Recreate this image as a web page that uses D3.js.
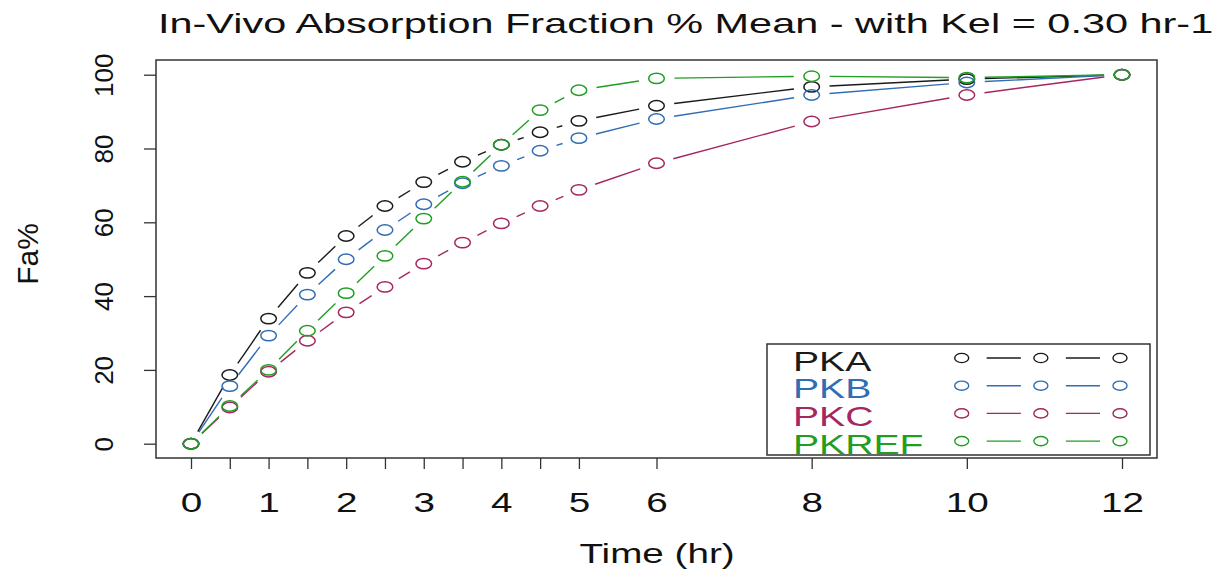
<!DOCTYPE html>
<html lang="en">

<head>
  <meta charset="UTF-8">
  <title>In-Vivo Absorption Fraction</title>
  <style>
    body {
      margin: 0;
      background: #fff;
    }

    svg {
      display: block;
      font-family: "Liberation Sans", Arial, sans-serif;
    }
  </style>
</head>

<body>
  <svg width="1212" height="570"></svg>
  <script src="https://d3js.org/d3.v7.min.js"></script>
  <script>
    // data
    var times = [0, 0.5, 1, 1.5, 2, 2.5, 3, 3.5, 4, 4.5, 5, 6, 8, 10, 12];
    var pka = [0, 18.6, 33.9, 46.3, 56.3, 64.4, 70.9, 76.4, 81, 84.4, 87.5, 91.6, 96.7, 98.8, 100];
    var pkb = [0, 15.6, 29.3, 40.4, 50, 57.9, 64.9, 70.6, 75.3, 79.4, 82.8, 88, 94.5, 97.9, 100];
    var pkc = [0, 9.8, 19.5, 27.9, 35.6, 42.5, 48.8, 54.5, 59.7, 64.4, 68.8, 76, 87.3, 94.5, 100];
    var pkref = [0, 10.2, 20, 30.6, 40.8, 50.9, 61, 71, 81, 90.4, 95.8, 99, 99.6, 99.2, 100];
    var seriesNames = ['PKA', 'PKB', 'PKC', 'PKREF'];
    var xLabelTicks = [0, 1, 2, 3, 4, 5, 6, 8, 10, 12];
    var yTicks = [0, 20, 40, 60, 80, 100];

    var colors = ['#1a1a1a', '#2f6db5', '#a52660', '#1f9e22'];
    var allSeries = [pka, pkb, pkc, pkref];

    // the picture is stretched sideways, so horizontal text is too
    var SX = 1.38;
    var box = { left: 156, right: 1157, top: 60, bottom: 458 };

    var svg = d3.select('svg');

    var x = d3.scaleLinear().domain([0, 12]).range([191, 1122]);
    var y = d3.scaleLinear().domain([0, 100]).range([443.7, 74.7]);

    // title
    svg.append('text')
      .attr('transform', 'translate(158,33) scale(1.48,1)')
      .attr('font-size', 28)
      .attr('fill', '#111')
      .text('In-Vivo Absorption Fraction % Mean - with Kel = 0.30 hr-1');

    // axes
    var xAxis = d3.axisBottom(x)
      .tickValues(times)
      .tickSize(11)
      .tickFormat(d => xLabelTicks.indexOf(d) >= 0 ? d : '');
    var gx = svg.append('g')
      .attr('transform', 'translate(0,' + box.bottom + ')')
      .call(xAxis);
    gx.select('.domain').remove();
    gx.selectAll('line').attr('stroke', '#333').attr('stroke-width', 1.3);
    gx.selectAll('text')
      .attr('y', 0).attr('dy', 0)
      .attr('transform', 'translate(0,54) scale(' + SX + ',1)')
      .attr('font-size', 28)
      .attr('font-family', null)
      .attr('fill', '#111');

    var yAxis = d3.axisLeft(y)
      .tickValues(yTicks)
      .tickSize(12);
    var gy = svg.append('g')
      .attr('transform', 'translate(' + box.left + ',0)')
      .call(yAxis);
    gy.select('.domain').remove();
    gy.selectAll('line').attr('stroke', '#333').attr('stroke-width', 1.3);
    gy.selectAll('text')
      .attr('transform', 'rotate(-90)')
      .attr('x', 0).attr('y', -43).attr('dy', 0)
      .attr('text-anchor', 'middle')
      .attr('font-size', 26)
      .attr('font-family', null)
      .attr('fill', '#111');

    // axis titles
    svg.append('text')
      .attr('transform', 'translate(657,563) scale(' + SX + ',1)')
      .attr('text-anchor', 'middle')
      .attr('font-size', 28)
      .attr('fill', '#111')
      .text('Time (hr)');
    svg.append('text')
      .attr('transform', 'translate(38,254) rotate(-90)')
      .attr('text-anchor', 'middle')
      .attr('font-size', 30)
      .attr('fill', '#111')
      .text('Fa%');

    // lines with gaps round the points (R type = "b")
    function gapped(pts, gap) {
      var segs = [];
      for (var i = 0; i < pts.length - 1; i++) {
        var a = pts[i], b = pts[i + 1];
        var dx = (b[0] - a[0]) / SX, dy = b[1] - a[1];
        var len = Math.sqrt(dx * dx + dy * dy);
        if (len <= 2 * gap) continue;
        var f = gap / len;
        segs.push([
          [a[0] + (b[0] - a[0]) * f, a[1] + dy * f],
          [b[0] - (b[0] - a[0]) * f, b[1] - dy * f]
        ]);
      }
      return segs;
    }

    var line = d3.line();

    allSeries.forEach((vals, k) => {
      var pts = times.map((t, i) => [x(t), y(vals[i])]);
      var g = svg.append('g');
      g.selectAll('path')
        .data(gapped(pts, 13))
        .enter().append('path')
        .attr('d', d => line(d))
        .attr('fill', 'none')
        .attr('stroke', colors[k])
        .attr('stroke-width', 1.4);
      g.selectAll('ellipse')
        .data(pts)
        .enter().append('ellipse')
        .attr('cx', d => d[0])
        .attr('cy', d => d[1])
        .attr('rx', 7.8)
        .attr('ry', 5.2)
        .attr('fill', 'none')
        .attr('stroke', colors[k])
        .attr('stroke-width', 1.5);
    });

    // legend
    var leg = svg.append('g');
    var lx = d3.scaleLinear().domain([0, 2]).range([961.7, 1120]);
    seriesNames.forEach((name, i) => {
      var base = 370.5 + i * 27.7;
      var cy = base - 12.5;
      leg.append('text')
        .attr('transform', 'translate(793,' + base + ') scale(1.45,1)')
        .attr('font-size', 27)
        .attr('fill', colors[i])
        .text(name);
      [0, 1, 2].forEach(j => {
        leg.append('ellipse')
          .attr('cx', lx(j)).attr('cy', cy)
          .attr('rx', 7).attr('ry', 4.6)
          .attr('fill', 'none')
          .attr('stroke', colors[i])
          .attr('stroke-width', 1.4);
      });
      [0, 1].forEach(j => {
        leg.append('line')
          .attr('x1', lx(j) + 25).attr('x2', lx(j + 1) - 20)
          .attr('y1', cy).attr('y2', cy)
          .attr('stroke', colors[i])
          .attr('stroke-width', 1.4);
      });
    });
    leg.append('rect')
      .attr('x', 767).attr('y', 344)
      .attr('width', 383).attr('height', 111)
      .attr('fill', 'none')
      .attr('stroke', '#333')
      .attr('stroke-width', 1.5);

    // plot frame
    svg.append('rect')
      .attr('x', box.left).attr('y', box.top)
      .attr('width', box.right - box.left)
      .attr('height', box.bottom - box.top)
      .attr('fill', 'none')
      .attr('stroke', '#333')
      .attr('stroke-width', 1.5);
  </script>
</body>

</html>
